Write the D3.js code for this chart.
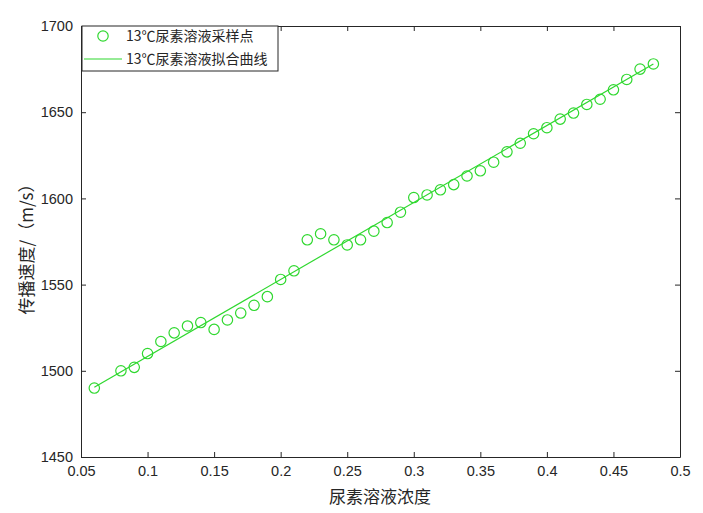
<!DOCTYPE html>
<html><head><meta charset="utf-8">
<script src="https://cdn.jsdelivr.net/npm/d3@7"></script>
<style>body{margin:0;background:#fff}svg{display:block}</style>
</head><body>
<svg id="c" width="703" height="513"></svg>
<script>
const concentration = [0.06,0.08,0.09,0.10,0.11,0.12,0.13,0.14,0.15,0.16,0.17,0.18,0.19,0.20,0.21,0.22,0.23,0.24,0.25,0.26,0.27,0.28,0.29,0.30,0.31,0.32,0.33,0.34,0.35,0.36,0.37,0.38,0.39,0.40,0.41,0.42,0.43,0.44,0.45,0.46,0.47,0.48];
const speed = [1490,1500,1502,1510,1517,1522,1526,1528,1524,1529.5,1533.5,1538,1543,1553,1558,1576,1579.5,1576,1573,1576,1581,1586,1592,1600.5,1602,1605,1608,1613,1616,1621,1627,1632,1637.5,1641,1646,1649.5,1654.5,1657.5,1663,1669,1675,1678];
const fitX = [0.06, 0.48];
const fitY = [1490.5, 1678];
const xTicks = [0.05,0.1,0.15,0.2,0.25,0.3,0.35,0.4,0.45,0.5];
const yTicks = [1450,1500,1550,1600,1650,1700];
const legendLabels = ["13℃尿素溶液采样点","13℃尿素溶液拟合曲线"];
const xLabel = "尿素溶液浓度";
const yLabel = "传播速度/（m/s）";

const svg = d3.select("#c");
const L=81, R=680, T=26, B=457;
const x = d3.scaleLinear().domain([0.05,0.5]).range([L,R]);
const y = d3.scaleLinear().domain([1450,1700]).range([B,T]);
const axisCol = "#262626";
const green = "#2fd82f";
const font = "'Liberation Sans', Arial, sans-serif";
const cjk = "'Noto Sans CJK SC', sans-serif";

// axes
const gx = svg.append("g").attr("transform",`translate(0,${B})`)
  .call(d3.axisBottom(x).tickValues(xTicks).tickFormat(d3.format("")).tickSizeInner(-5).tickSizeOuter(0).tickPadding(9));
const gxt = svg.append("g").attr("transform",`translate(0,${T})`)
  .call(d3.axisTop(x).tickValues(xTicks).tickFormat("").tickSizeInner(-5).tickSizeOuter(0));
const gy = svg.append("g").attr("transform",`translate(${L},0)`)
  .call(d3.axisLeft(y).tickValues(yTicks).tickFormat(d3.format("d")).tickSizeInner(-5).tickSizeOuter(0).tickPadding(8));
const gyr = svg.append("g").attr("transform",`translate(${R},0)`)
  .call(d3.axisRight(y).tickValues(yTicks).tickFormat("").tickSizeInner(-5).tickSizeOuter(0));
[gx,gxt,gy,gyr].forEach(g=>{
  g.selectAll("path.domain").attr("stroke",axisCol).attr("stroke-width",1);
  g.selectAll("line").attr("stroke",axisCol);
  g.selectAll("text").attr("fill",axisCol).style("font-family",font).style("font-size","14.5px");
});

// fit line
svg.append("path").datum(fitX.map((d,i)=>[d,fitY[i]]))
  .attr("fill","none").attr("stroke",green).attr("stroke-width",1.2)
  .attr("d", d3.line().x(d=>x(d[0])).y(d=>y(d[1])));

// sample points
svg.append("g").selectAll("circle").data(concentration.map((d,i)=>[d,speed[i]])).join("circle")
  .attr("cx",d=>x(d[0])).attr("cy",d=>y(d[1])).attr("r",5.2)
  .attr("fill","none").attr("stroke",green).attr("stroke-width",1.2);

// labels
svg.append("text").attr("x",380).attr("y",503).attr("text-anchor","middle")
  .attr("fill",axisCol).style("font-family",cjk).style("font-size","17px").text(xLabel);
svg.append("text").attr("transform",`translate(33,245) rotate(-90)`).attr("text-anchor","middle")
  .attr("fill",axisCol).style("font-family",cjk).style("font-size","17px").text(yLabel);

// legend
const lg = svg.append("g");
lg.append("rect").attr("x",82).attr("y",26).attr("width",196).attr("height",45)
  .attr("fill","#fff").attr("stroke",axisCol).attr("stroke-width",1);
lg.append("circle").attr("cx",103).attr("cy",36).attr("r",5.2).attr("fill","none").attr("stroke",green).attr("stroke-width",1.2);
lg.append("line").attr("x1",84).attr("x2",122).attr("y1",59).attr("y2",59).attr("stroke",green).attr("stroke-width",1.2);
legendLabels.forEach((t,i)=>{
  lg.append("text").attr("x",126).attr("y",36+i*23).attr("dy","0.35em")
    .attr("fill",axisCol).style("font-family",cjk).style("font-size","14px").text(t);
});
</script>
</body></html>
